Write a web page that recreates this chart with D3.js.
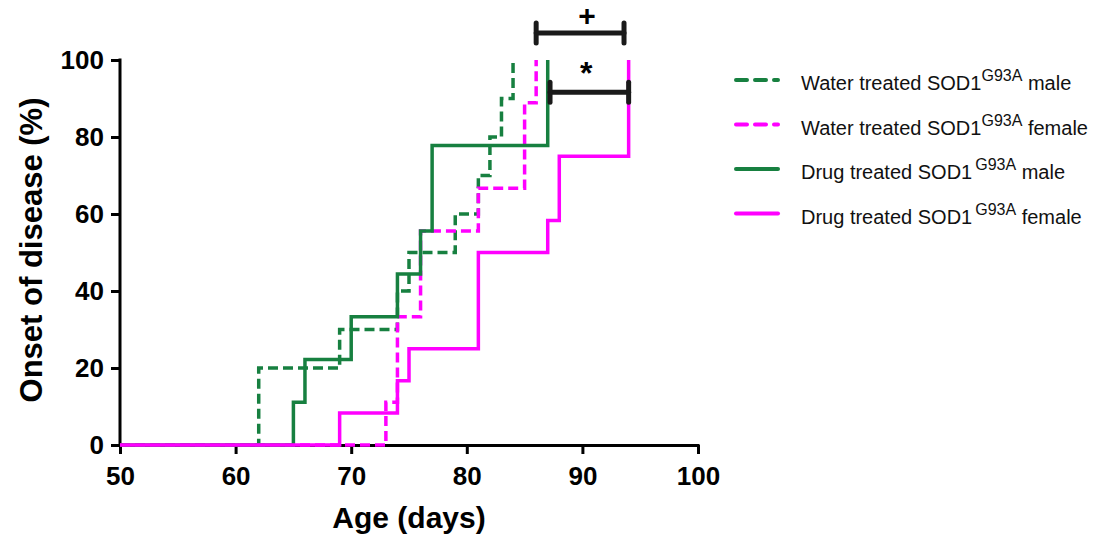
<!DOCTYPE html>
<html><head><meta charset="utf-8">
<script src="https://cdn.jsdelivr.net/npm/d3@7/dist/d3.min.js"></script>
<style>
html,body{margin:0;padding:0;background:#fff;}
svg{display:block;font-family:"Liberation Sans",Arial,Helvetica,sans-serif;}
</style></head>
<body>
<svg id="chart" width="1093" height="539"></svg>
<script>
// ---- data ----
const xTicks = [50, 60, 70, 80, 90, 100];
const yTicks = [0, 20, 40, 60, 80, 100];

const waterMaleDays   = [50, 62, 69, 74, 75, 79, 81, 82, 83, 84];
const waterMalePct    = [0, 20, 30, 40, 50, 60, 70, 80, 90, 100];
const waterFemaleDays = [50, 73, 74, 76, 81, 85, 86];
const waterFemalePct  = [0, 11.1, 33.3, 55.6, 66.7, 88.9, 100];
const drugMaleDays    = [50, 65, 66, 70, 74, 76, 77, 87];
const drugMalePct     = [0, 11.1, 22.2, 33.3, 44.4, 55.6, 77.8, 100];
const drugFemaleDays  = [50, 69, 74, 75, 81, 87, 88, 94];
const drugFemalePct   = [0, 8.3, 16.7, 25, 50, 58.3, 75, 100];

const seriesNames = ["Water treated SOD1", "Water treated SOD1", "Drug treated SOD1", "Drug treated SOD1"];
const seriesSuffix = [" male", " female", " male", " female"];
const superscript = "G93A";

// significance brackets (days, percent)
const plusBracketDays = [86, 93.6];
const plusBracketPct = 107;
const starBracketDays = [87.2, 94];
const starBracketPct = 91.6;

// ---- drawing ----
const green = "#178040", magenta = "#ff00ff";
const svg = d3.select("#chart");
const x = d3.scaleLinear().domain([50, 100]).range([120, 698]);
const y = d3.scaleLinear().domain([0, 100]).range([445, 60]);

const series = [
  {days: waterMaleDays, pct: waterMalePct, color: green, dash: "10,5"},
  {days: waterFemaleDays, pct: waterFemalePct, color: magenta, dash: "10,5"},
  {days: drugMaleDays, pct: drugMalePct, color: green, dash: null},
  {days: drugFemaleDays, pct: drugFemalePct, color: magenta, dash: null}
];

// axes
const xAxis = svg.append("g").attr("transform", "translate(0,445)")
  .call(d3.axisBottom(x).tickValues(xTicks).tickSize(9).tickSizeOuter(0).tickPadding(13));
const yAxis = svg.append("g").attr("transform", "translate(120,0)")
  .call(d3.axisLeft(y).tickValues(yTicks).tickSize(9).tickSizeOuter(0).tickPadding(7));
[xAxis, yAxis].forEach(a => {
  a.selectAll("path.domain").attr("stroke", "#000").attr("stroke-width", 3);
  a.selectAll(".tick line").attr("stroke", "#000").attr("stroke-width", 3);
  a.selectAll(".tick text").attr("fill", "#000").style("font-size", "26px").style("font-weight", "bold")
    .style("font-family", '"Liberation Sans",Arial,sans-serif');
});
xAxis.select("path.domain").attr("d", "M118.5,0.5H" + (x(100) + 1.5));
yAxis.select("path.domain").attr("d", "M0,446.5V" + (y(100) - 1.5));

// step lines
const line = d3.line().x(d => x(d[0])).y(d => y(d[1])).curve(d3.curveStepAfter);
series.forEach(s => {
  const pts = s.days.map((d, i) => [d, s.pct[i]]);
  svg.append("path").attr("d", line(pts)).attr("fill", "none")
    .attr("stroke", s.color).attr("stroke-width", 3.5)
    .attr("stroke-dasharray", s.dash);
});

// axis titles
svg.append("text").attr("x", 409).attr("y", 528).attr("text-anchor", "middle")
  .style("font-size", "30px").style("font-weight", "bold").text("Age (days)");
svg.append("text").attr("transform", "translate(42,250) rotate(-90)").attr("text-anchor", "middle")
  .style("font-size", "31px").style("font-weight", "bold").text("Onset of disease (%)");

// brackets
function bracket(days, pct) {
  const g = svg.append("g").attr("stroke", "#1a1a1a").attr("stroke-width", 5).attr("stroke-linecap", "round");
  const yy = y(pct);
  g.append("line").attr("x1", x(days[0])).attr("x2", x(days[1])).attr("y1", yy).attr("y2", yy);
  days.forEach(d => g.append("line").attr("x1", x(d)).attr("x2", x(d)).attr("y1", yy - 10).attr("y2", yy + 10));
}
bracket(plusBracketDays, plusBracketPct);
bracket(starBracketDays, starBracketPct);
svg.append("text").attr("x", x((plusBracketDays[0] + plusBracketDays[1]) / 2) + 7).attr("y", y(plusBracketPct) - 7)
  .attr("text-anchor", "middle").style("font-size", "30px").style("font-weight", "bold").text("+");
svg.append("text").attr("x", x((starBracketDays[0] + starBracketDays[1]) / 2) - 3).attr("y", y(starBracketPct) - 8)
  .attr("text-anchor", "middle").style("font-size", "32px").style("font-weight", "bold").text("*");

// legend
const leg = svg.append("g");
series.forEach((s, i) => {
  const cy = 80 + i * 44.5;
  leg.append("line").attr("x1", 736).attr("x2", 778).attr("y1", cy).attr("y2", cy)
    .attr("stroke", s.color).attr("stroke-width", 4).attr("stroke-linecap", "round")
    .attr("stroke-dasharray", s.dash ? "11,8" : null);
  const t = leg.append("text").attr("x", 801).attr("y", cy + 10).style("font-size", "20px").attr("fill", "#111");
  t.append("tspan").text(seriesNames[i]);
  t.append("tspan").attr("dx", i >= 2 ? 3 : 0).attr("dy", -9).style("font-size", "16px").text(superscript);
  t.append("tspan").attr("dy", 9).text(seriesSuffix[i]);
});
</script>
</body></html>
